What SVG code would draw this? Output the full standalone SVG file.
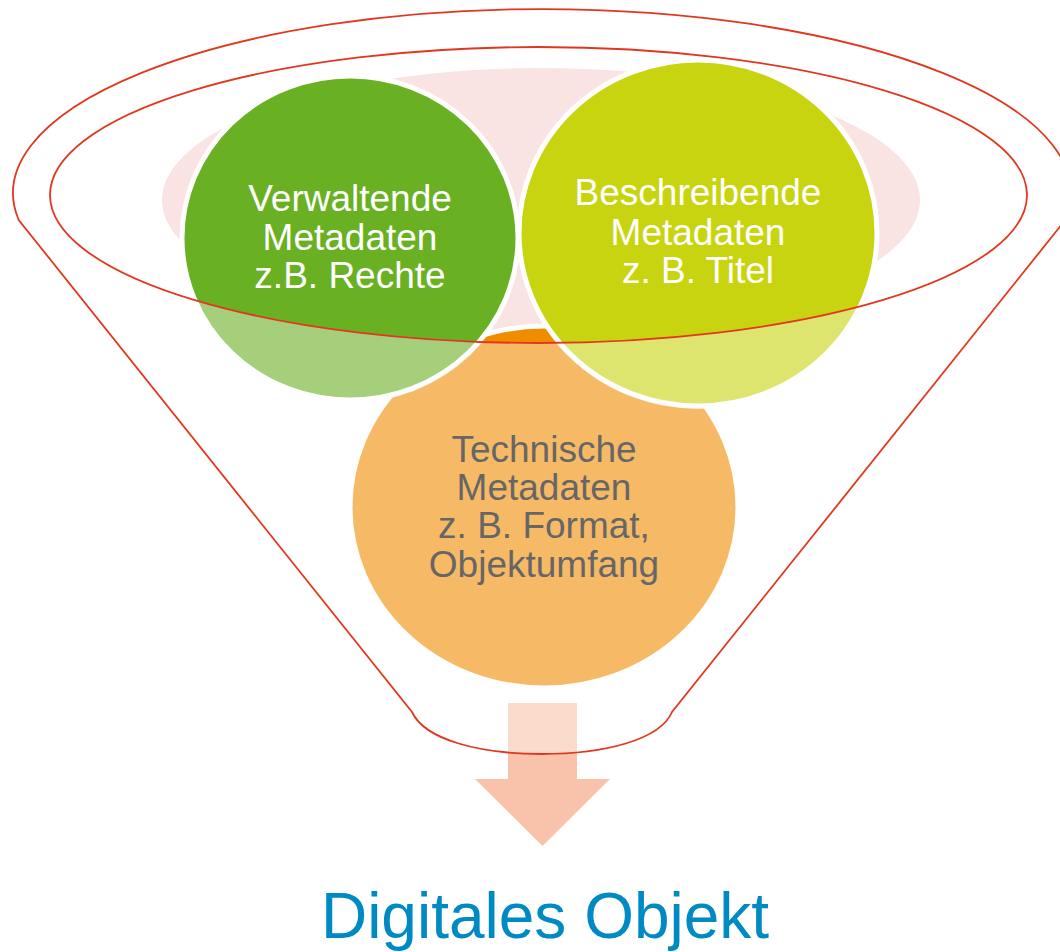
<svg xmlns="http://www.w3.org/2000/svg" width="1060" height="952" viewBox="0 0 1060 952">
<style>
.rim{fill:none;stroke:#E2371F;stroke-width:1.8}
.ball{stroke:#FFFFFF;stroke-width:5}
.veil{fill:#FFFFFF;fill-opacity:0.4;stroke:none}
.lbl{font-family:"Liberation Sans",Arial,sans-serif;font-size:37px;text-anchor:middle}
.w{fill:#FFFFFF}
.g{fill:#666666}
</style>
<defs>
<clipPath id="body">
<path clip-rule="evenodd" d="M18.7,220 A529,184 0 1 1 1065.3,220 L672,712 C660,740 604,754 542,754 C480,754 425,740 412,712 Z M50,195 A488.5,148 0 1 0 1027,195 A488.5,148 0 1 0 50,195 Z"/>
</clipPath>
</defs>
<rect width="1060" height="952" fill="#FFFFFF"/>
<g id="rim-back">
<ellipse cx="541" cy="200" rx="379" ry="132" fill="#F9E3E3"/>
</g>
<g id="node-technische">
<ellipse class="ball" cx="544" cy="507" rx="194" ry="181" fill="#F08C00"/>
<ellipse class="veil" cx="544" cy="507" rx="197" ry="184" clip-path="url(#body)"/>
<text class="lbl g"><tspan x="544" y="462">Technische</tspan><tspan x="544" y="500">Metadaten</tspan><tspan x="544" y="538">z. B. Format,</tspan><tspan x="544" y="577">Objektumfang</tspan></text>
</g>
<g id="node-verwaltende">
<ellipse class="ball" cx="350" cy="238" rx="168" ry="162" fill="#6AB023"/>
<ellipse class="veil" cx="350" cy="238" rx="171" ry="165" clip-path="url(#body)"/>
<text class="lbl w"><tspan x="350" y="211">Verwaltende</tspan><tspan x="350" y="250">Metadaten</tspan><tspan x="350" y="288">z.B. Rechte</tspan></text>
</g>
<g id="node-beschreibende">
<ellipse class="ball" cx="698" cy="233" rx="179" ry="173" fill="#C8D40F"/>
<ellipse class="veil" cx="698" cy="233" rx="182" ry="176" clip-path="url(#body)"/>
<text class="lbl w"><tspan x="698" y="205">Beschreibende</tspan><tspan x="698" y="245">Metadaten</tspan><tspan x="698" y="283">z. B. Titel</tspan></text>
</g>
<g id="connectors">
<polygon points="508,703 577,703 577,779 610,779 542.5,846 475,779 508,779" fill="#F8C3AA"/>
<rect class="veil" x="500" y="700" width="85" height="60" clip-path="url(#body)"/>
</g>
<g id="funnel">
<path class="rim" d="M18.7,220 A529,184 0 1 1 1065.3,220 L672,712 C660,740 604,754 542,754 C480,754 425,740 412,712 Z"/>
<ellipse class="rim" cx="538.5" cy="195" rx="488.5" ry="148"/>
</g>
<g id="node-digitales-objekt">
<text x="545" y="938" font-family="Liberation Sans, Arial, sans-serif" font-size="64" text-anchor="middle" fill="#008AC4">Digitales Objekt</text>
</g>
</svg>
